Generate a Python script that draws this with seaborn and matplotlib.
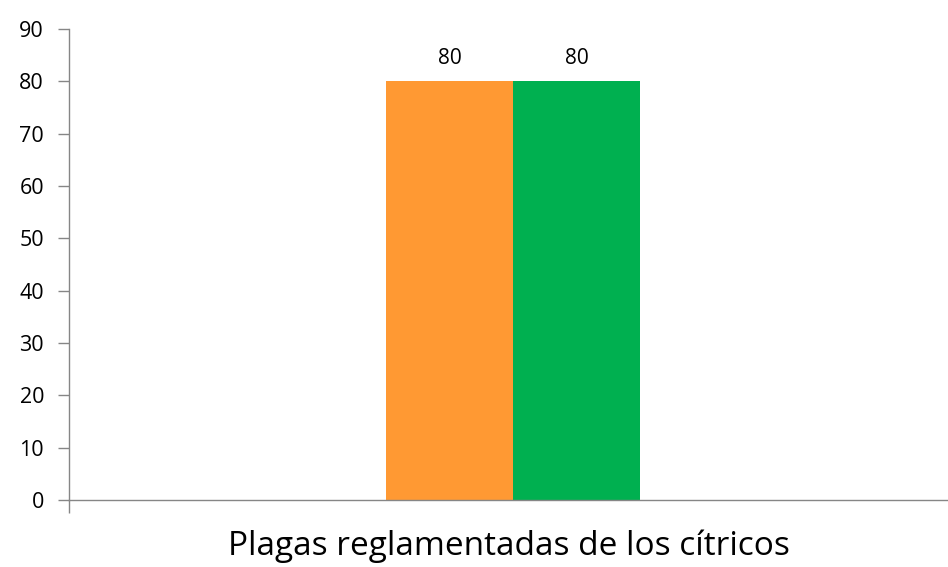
import pandas as pd
import matplotlib.pyplot as plt
import seaborn as sns

# Data
category = ['Plagas reglamentadas de los cítricos']
series = ['Serie 1', 'Serie 2']
values = [80, 80]
colors = ['#FF9933', '#00B050']
y_ticks = [0, 10, 20, 30, 40, 50, 60, 70, 80, 90]

df = pd.DataFrame({
    'cat': category * len(series),
    'serie': series,
    'valor': values,
})

sns.set_style('white')
plt.rcParams['font.family'] = ['Open Sans', 'DejaVu Sans']

AXIS_GRAY = '#868686'

fig = plt.figure(figsize=(9.48, 5.67), dpi=100)
ax = fig.add_axes([0.0728, 0.1182, 0.9272, 0.8307])

sns.barplot(data=df, x='cat', y='valor', hue='serie', palette=colors,
            width=0.289, dodge=True, saturation=1, legend=False,
            linewidth=0, ax=ax)

for cont in ax.containers:
    ax.bar_label(cont, fmt='%g', padding=9, fontsize=15, color='#000000')

ax.set_ylim(0, 90)
ax.set_yticks(y_ticks)
ax.set_xlim(-0.505, 0.495)
ax.set_xticks([ax.get_xlim()[0]])
ax.set_xticklabels([])
ax.set_xlabel(category[0], fontsize=24, labelpad=9, color='#000000')
ax.set_ylabel('')

for side in ['top', 'right']:
    ax.spines[side].set_visible(False)
for side in ['left', 'bottom']:
    ax.spines[side].set_color(AXIS_GRAY)
    ax.spines[side].set_linewidth(1.0)

ax.tick_params(axis='y', direction='out', length=8, width=1, color=AXIS_GRAY,
               labelsize=15.5, labelcolor='#000000', left=True, pad=10)
ax.tick_params(axis='x', direction='out', length=9, width=1, color=AXIS_GRAY,
               bottom=True)

plt.savefig('out.png', dpi=100, facecolor='white')
plt.close()
